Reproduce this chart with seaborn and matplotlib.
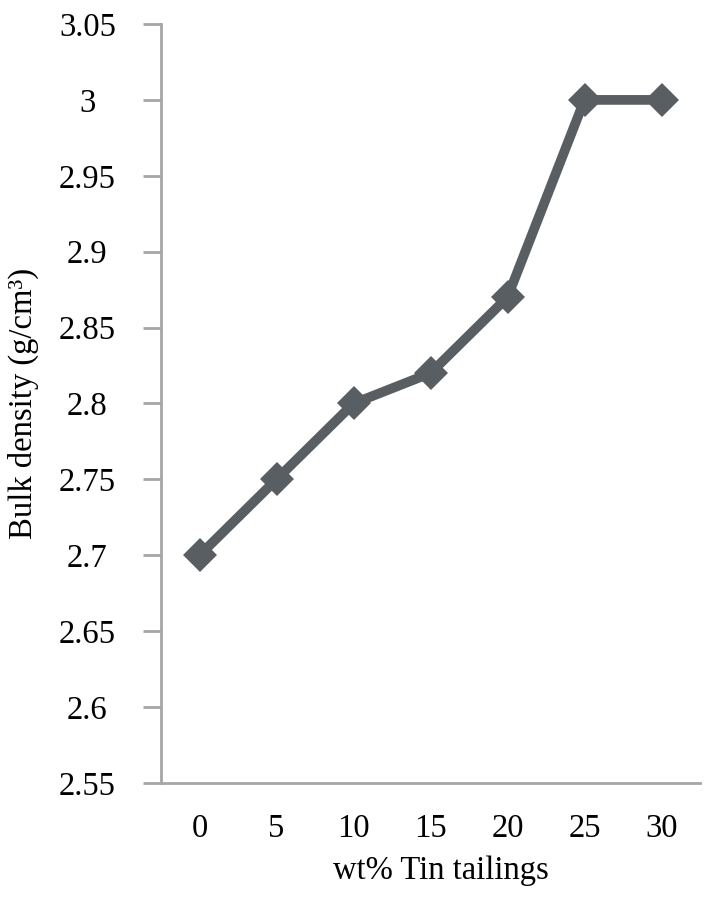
import matplotlib.pyplot as plt
import seaborn as sns
import pandas as pd

# data
tin_wt = [0, 5, 10, 15, 20, 25, 30]
bulk_density = [2.70, 2.75, 2.80, 2.82, 2.87, 3.00, 3.00]
y_ticks = [2.55, 2.6, 2.65, 2.7, 2.75, 2.8, 2.85, 2.9, 2.95, 3.0, 3.05]

sns.set_style('white')
plt.rcParams['font.family'] = ['Liberation Serif', 'DejaVu Serif']
plt.rcParams['text.color'] = 'black'
plt.rcParams['axes.labelcolor'] = 'black'
plt.rcParams['xtick.color'] = 'black'
plt.rcParams['ytick.color'] = 'black'

df = pd.DataFrame({'pos': range(len(tin_wt)), 'density': bulk_density})

axis_grey = '#a6a6a6'
line_grey = '#595e62'
fs = 23.5

fig = plt.figure(figsize=(7.2, 8.97), dpi=100)
ax = fig.add_axes([161/720, 1 - 783/897, 539/720, 759/897])

sns.lineplot(data=df, x='pos', y='density', color=line_grey, linewidth=7,
             marker='D', markersize=17, markeredgewidth=0, ax=ax)

ax.set_xlim(-0.5, len(tin_wt) - 0.5)
ax.set_ylim(2.55, 3.05)
ax.set_xticks(range(len(tin_wt)))
ax.set_xticklabels([str(v) for v in tin_wt])
ax.set_yticks(y_ticks)
ax.set_yticklabels([f'{v:g}' for v in y_ticks], ha='center')

ax.tick_params(axis='y', left=True, direction='out', length=13, width=2,
               color=axis_grey, labelcolor='black', pad=40, labelsize=fs)
ax.tick_params(axis='x', bottom=False, length=0, pad=22, labelsize=fs,
               labelcolor='black')

for side in ['top', 'right']:
    ax.spines[side].set_visible(False)
for side in ['left', 'bottom']:
    ax.spines[side].set_color(axis_grey)
    ax.spines[side].set_linewidth(2)

ax.set_xlabel('wt% Tin tailings', fontsize=fs, color='black')
ax.set_ylabel('Bulk density (g/cm³)', fontsize=fs, color='black')
ax.xaxis.set_label_coords(0.52, -0.095)
ax.yaxis.set_label_coords(-0.226, 0.5)

fig.savefig('out.png', dpi=100)
